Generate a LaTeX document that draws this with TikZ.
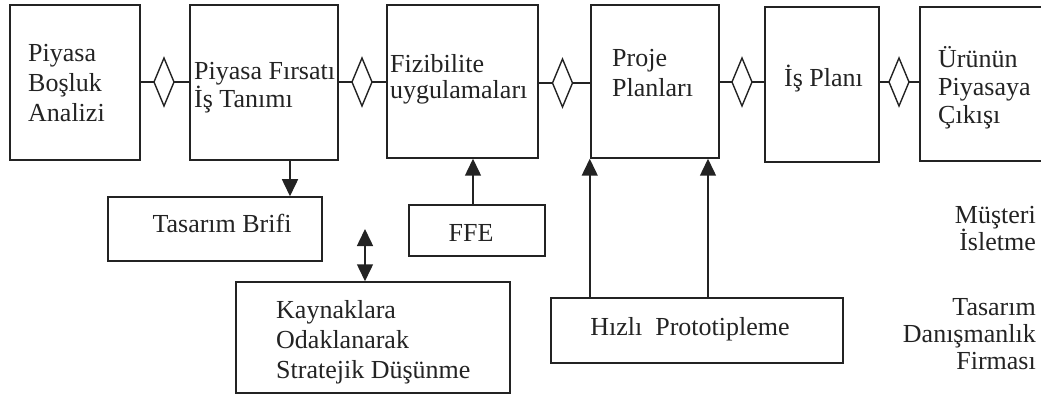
\documentclass[tikz,border=0pt]{standalone}
\usepackage{fontspec}
\setmainfont{Liberation Serif}
\usetikzlibrary{arrows.meta}
\definecolor{ink}{RGB}{35,35,35}
\begin{document}
\begin{tikzpicture}[x=1pt,y=-1pt,
  box/.style={draw=ink, line width=1.5pt, inner sep=0pt},
  lbl/.style={inner sep=0pt, text=ink, font=\fontsize{26}{29}\selectfont, align=left},
  rlbl/.style={lbl, align=right, anchor=north east},
  gate/.style={draw=ink, line width=1.4pt, line join=miter},
  link/.style={draw=ink, line width=1.5pt},
  arr/.style={draw=ink, fill=ink, line width=1.5pt, -{Triangle[width=16pt,length=17pt]}},
  arrboth/.style={draw=ink, fill=ink, line width=1.5pt, {Triangle[width=16pt,length=17pt]}-{Triangle[width=16pt,length=17pt]}},
]
\clip (0,0) rectangle (1041,398);
\fill[white] (0,0) rectangle (1041,398);

% main process chain
\node[box, minimum width=130, minimum height=155] (b1) at (75,82.5) {};
\node[box, minimum width=148, minimum height=155] (b2) at (264,82.5) {};
\node[box, minimum width=151, minimum height=153] (b3) at (462.5,81.5) {};
\node[box, minimum width=128, minimum height=153] (b4) at (655,81.5) {};
\node[box, minimum width=114, minimum height=155] (b5) at (822,84.5) {};
\node[box, minimum width=140, minimum height=154] (b6) at (990,84) {};

\node[lbl, anchor=north west, font=\fontsize{26}{30}\selectfont] (t1) at (28,44) {Piyasa\\Boşluk\\Analizi};
\node[lbl, anchor=north west, font=\fontsize{26}{26}\selectfont] (t2) at (194,62) {Piyasa Fırsatı\\İş Tanımı};
\node[lbl, anchor=north west, font=\fontsize{26}{26}\selectfont] (t3) at (390,54) {Fizibilite\\uygulamaları};
\node[lbl, anchor=north west, font=\fontsize{26}{30}\selectfont] (t4) at (612,49) {Proje\\Planları};
\node[lbl, anchor=north west] (t5) at (784,65) {İş Planı};
\node[lbl, anchor=north west, font=\fontsize{26}{28}\selectfont] (t6) at (938,46) {Ürünün\\Piyasaya\\Çıkışı};

% decision diamonds between the stages (half width 10, half height 24)
\foreach \n/\x/\y in {d1/164/82, d2/362/82, d3/562.5/83, d4/742/82, d5/899/82} {
  \coordinate (\n) at (\x,\y);
  \draw[gate] (\n) ++(-10,0) -- ++(10,-24) -- ++(10,24) -- ++(-10,24) -- cycle;
}

\draw[link] (b1.east |- d1) -- ([xshift=-10pt]d1);
\draw[link] ([xshift=10pt]d1) -- (b2.west |- d1);
\draw[link] (b2.east |- d2) -- ([xshift=-10pt]d2);
\draw[link] ([xshift=10pt]d2) -- (b3.west |- d2);
\draw[link] (b3.east |- d3) -- ([xshift=-10pt]d3);
\draw[link] ([xshift=10pt]d3) -- (b4.west |- d3);
\draw[link] (b4.east |- d4) -- ([xshift=-10pt]d4);
\draw[link] ([xshift=10pt]d4) -- (b5.west |- d4);
\draw[link] (b5.east |- d5) -- ([xshift=-10pt]d5);
\draw[link] ([xshift=10pt]d5) -- (b6.west |- d5);

% supporting activities
\node[box, minimum width=214, minimum height=64] (brifi) at (215,229) {};
\node[lbl] (tbrifi) at (222,223) {Tasarım Brifi};
\node[box, minimum width=136, minimum height=51] (ffe) at (477,230.5) {};
\node[lbl] (tffe) at (471,233) {FFE};
\node[box, minimum width=274, minimum height=111] (kay) at (373,337.5) {};
\node[lbl, anchor=north west, font=\fontsize{26}{30}\selectfont] (tkay) at (276,300) {Kaynaklara\\Odaklanarak\\Stratejik Düşünme};
\node[box, minimum width=292, minimum height=65] (hizli) at (697,330.5) {};
\node[lbl] (thizli) at (690,329) {Hızlı~ Prototipleme};

% arrows
\coordinate (a1) at ([xshift=26pt]b2.south);
\draw[arr] (a1) -- (a1 |- brifi.north);
\coordinate (a2) at ([xshift=-4pt]ffe.north);
\draw[arr] (a2) -- (a2 |- b3.south);
\coordinate (a3) at ([xshift=-0.5pt]b4.south west);
\draw[arr] (a3 |- hizli.north) -- (a3);
\coordinate (a4) at ([xshift=53pt]b4.south);
\draw[arr] (a4 |- hizli.north) -- (a4);
\coordinate (dtop) at (365,229);
\draw[arrboth] (dtop) -- (dtop |- kay.north);

% actor labels
\node[rlbl, font=\fontsize{26}{27}\selectfont] (cust) at (1036,206) {Müşteri\\İsletme};
\node[rlbl, font=\fontsize{26}{27}\selectfont] (firm) at (1036,298) {Tasarım\\Danışmanlık\\Firması};
\end{tikzpicture}
\end{document}
